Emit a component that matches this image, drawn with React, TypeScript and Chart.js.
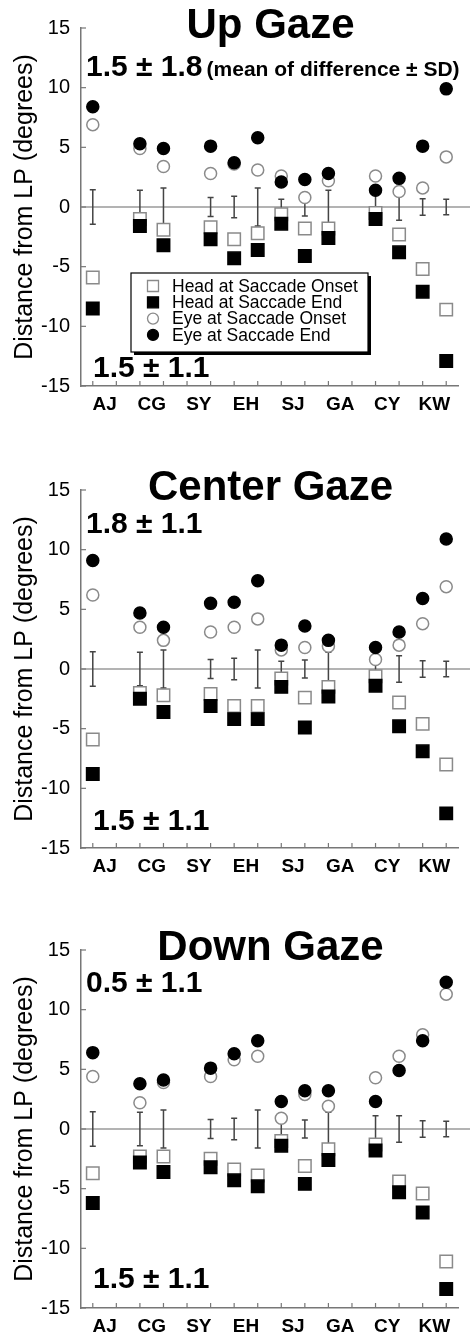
import React, { useEffect, useRef } from "react";
import { Chart, registerables } from "chart.js";

Chart.register(...registerables);

const FONT = "'Liberation Sans', Arial, Helvetica, sans-serif";

// ---- data ----
const subjects = ["AJ", "CG", "SY", "EH", "SJ", "GA", "CY", "KW"];
// x positions (two slots per subject) that hold data
const positions = [1, 3, 4, 6, 7, 8, 9, 10, 11, 13, 14, 15, 16];
const errSD = [1.45, 1.4, 1.6, 0.8, 0.9, 1.6, 0.65, 0.75, 1.4, 1.1, 1.1, 0.7, 0.65];

const upHeadOnset = [-5.9, -1.0, -1.9, -1.7, -2.7, -2.2, -0.6, -1.8, -1.8, -0.5, -2.3, -5.2, -8.6];
const upHeadEnd = [-8.5, -1.6, -3.2, -2.7, -4.3, -3.6, -1.4, -4.1, -2.6, -1.0, -3.8, -7.1, -12.9];
const upEyeOnset = [6.9, 4.9, 3.4, 2.8, 3.6, 3.1, 2.6, 0.8, 2.2, 2.6, 1.3, 1.6, 4.2];
const upEyeEnd = [8.4, 5.3, 4.9, 5.1, 3.7, 5.8, 2.1, 2.3, 2.8, 1.4, 2.4, 5.1, 9.9];

const centerHeadOnset = [-5.9, -2.0, -2.2, -2.1, -3.1, -3.1, -0.8, -2.4, -1.5, -0.6, -2.8, -4.6, -8.0];
const centerHeadEnd = [-8.8, -2.5, -3.6, -3.1, -4.2, -4.2, -1.5, -4.9, -2.3, -1.4, -4.8, -6.9, -12.1];
const centerEyeOnset = [6.2, 3.5, 2.4, 3.1, 3.5, 4.2, 1.6, 1.8, 1.9, 0.8, 2.0, 3.8, 6.9];
const centerEyeEnd = [9.1, 4.7, 3.5, 5.5, 5.6, 7.4, 2.0, 3.6, 2.4, 1.8, 3.1, 5.9, 10.9];

const downHeadOnset = [-3.7, -2.3, -2.3, -2.5, -3.4, -3.9, -1.0, -3.1, -1.7, -1.3, -4.4, -5.4, -11.1];
const downHeadEnd = [-6.2, -2.8, -3.6, -3.2, -4.3, -4.8, -1.4, -4.6, -2.6, -1.8, -5.3, -7.0, -13.4];
const downEyeOnset = [4.4, 2.2, 3.9, 4.4, 5.8, 6.1, 0.9, 2.9, 1.9, 4.3, 6.1, 7.9, 11.3];
const downEyeEnd = [6.4, 3.8, 4.1, 5.1, 6.3, 7.4, 2.3, 3.2, 3.2, 2.3, 4.9, 7.4, 12.3];

const seriesLabels = [
  "Head at Saccade Onset",
  "Head at Saccade End",
  "Eye at Saccade Onset",
  "Eye at Saccade End",
];
const yTicks = [-15, -10, -5, 0, 5, 10, 15];

const panels = [
  {
    title: "Up Gaze",
    topStat: "1.5 ± 1.8",
    topNote: "(mean of difference ± SD)",
    bottomStat: "1.5 ± 1.1",
    series: [upHeadOnset, upHeadEnd, upEyeOnset, upEyeEnd],
    legend: true,
    topY: 48,
    bottomY: 9,
  },
  {
    title: "Center Gaze",
    topStat: "1.8 ± 1.1",
    topNote: "",
    bottomStat: "1.5 ± 1.1",
    series: [centerHeadOnset, centerHeadEnd, centerEyeOnset, centerEyeEnd],
    legend: false,
    topY: 43,
    bottomY: 18,
  },
  {
    title: "Down Gaze",
    topStat: "0.5 ± 1.1",
    topNote: "",
    bottomStat: "1.5 ± 1.1",
    series: [downHeadOnset, downHeadEnd, downEyeOnset, downEyeEnd],
    legend: false,
    topY: 42,
    bottomY: 20,
  },
];

const styles = [
  { pointStyle: "rect", radius: 8.8, bg: "#ffffff", border: "#8a8a8a", order: 2 },
  { pointStyle: "rect", radius: 8.8, bg: "#000000", border: "#000000", order: 1 },
  { pointStyle: "circle", radius: 6, bg: "#ffffff", border: "#8a8a8a", order: 2 },
  { pointStyle: "circle", radius: 6, bg: "#000000", border: "#000000", order: 1 },
];

function makePlugin(panel: any) {
  return {
    id: "panelDecor",
    beforeDatasetsDraw(chart: any) {
      const { ctx, chartArea, scales } = chart;
      const xs = scales.x;
      const ys = scales.y;
      ctx.save();
      // zero line
      const y0 = ys.getPixelForValue(0);
      ctx.strokeStyle = "#9a9a9a";
      ctx.lineWidth = 1.5;
      ctx.beginPath();
      ctx.moveTo(chartArea.left, y0);
      ctx.lineTo(chartArea.right + 12, y0);
      ctx.stroke();
      // error bars
      ctx.strokeStyle = "#444";
      ctx.lineWidth = 1.5;
      positions.forEach((p, i) => {
        const x = xs.getPixelForValue(p);
        const yt = ys.getPixelForValue(errSD[i]);
        const yb = ys.getPixelForValue(-errSD[i]);
        ctx.beginPath();
        ctx.moveTo(x, yt);
        ctx.lineTo(x, yb);
        ctx.moveTo(x - 3, yt);
        ctx.lineTo(x + 3, yt);
        ctx.moveTo(x - 3, yb);
        ctx.lineTo(x + 3, yb);
        ctx.stroke();
      });
      // inward tick marks
      ctx.strokeStyle = "#777";
      ctx.lineWidth = 1.2;
      for (let p = 1; p <= 16; p++) {
        const x = xs.getPixelForValue(p);
        ctx.beginPath();
        ctx.moveTo(x, chartArea.bottom);
        ctx.lineTo(x, chartArea.bottom - 5);
        ctx.stroke();
      }
      yTicks.forEach((v) => {
        const y = ys.getPixelForValue(v);
        ctx.beginPath();
        ctx.moveTo(chartArea.left, y);
        ctx.lineTo(chartArea.left + 5, y);
        ctx.stroke();
      });
      ctx.restore();
    },
    afterDraw(chart: any) {
      const { ctx, chartArea } = chart;
      ctx.save();
      ctx.fillStyle = "#000";
      ctx.textBaseline = "alphabetic";
      // title
      ctx.font = `bold 42px ${FONT}`;
      ctx.textAlign = "center";
      ctx.fillText(panel.title, (chartArea.left + chartArea.right) / 2 + 1, chartArea.top + 10);
      // stats
      ctx.textAlign = "left";
      ctx.font = `bold 30px ${FONT}`;
      const sx = chartArea.left + 5;
      ctx.fillText(panel.topStat, sx, chartArea.top + panel.topY);
      const w = ctx.measureText(panel.topStat).width;
      if (panel.topNote) {
        ctx.font = `bold 21px ${FONT}`;
        ctx.fillText(panel.topNote, sx + w + 4, chartArea.top + panel.topY);
      }
      ctx.font = `bold 30px ${FONT}`;
      ctx.fillText(panel.bottomStat, chartArea.left + 12, chartArea.bottom - panel.bottomY);

      // legend
      if (panel.legend) {
        const lx = chartArea.left + 50;
        const ly = chartArea.top + 245;
        const lw = 237;
        const lh = 79;
        ctx.fillStyle = "#000";
        ctx.fillRect(lx + 3, ly + 3, lw, lh);
        ctx.fillStyle = "#fff";
        ctx.fillRect(lx, ly, lw, lh);
        ctx.strokeStyle = "#000";
        ctx.lineWidth = 1.2;
        ctx.strokeRect(lx, ly, lw, lh);
        ctx.font = `17.5px ${FONT}`;
        ctx.textBaseline = "middle";
        chart.data.datasets.forEach((ds: any, i: number) => {
          const cy = ly + 13 + i * 16.3;
          const mx = lx + 22;
          ctx.lineWidth = 1.3;
          ctx.strokeStyle = ds.borderColor;
          ctx.fillStyle = ds.backgroundColor;
          ctx.beginPath();
          if (ds.pointStyle === "rect") {
            ctx.rect(mx - 5.5, cy - 5.5, 11, 11);
          } else {
            ctx.arc(mx, cy, 5.5, 0, Math.PI * 2);
          }
          ctx.fill();
          ctx.stroke();
          ctx.fillStyle = "#000";
          ctx.fillText(ds.label, lx + 41, cy + 1);
        });
      }
      ctx.restore();
    },
  };
}

function makeConfig(panel: any): any {
  return {
    type: "scatter",
    data: {
      datasets: seriesLabels.map((label, k) => ({
        label,
        data: positions.map((x, i) => ({ x, y: panel.series[k][i] })),
        pointStyle: styles[k].pointStyle,
        pointRadius: styles[k].radius,
        pointHoverRadius: styles[k].radius,
        backgroundColor: styles[k].bg,
        borderColor: styles[k].border,
        pointBorderWidth: 1.5,
        borderWidth: 1.5,
        order: styles[k].order,
      })),
    },
    options: {
      animation: false,
      responsive: true,
      maintainAspectRatio: false,
      events: [],
      layout: { padding: { top: 28, right: 16, left: 0, bottom: 0 } },
      plugins: { legend: { display: false }, tooltip: { enabled: false }, title: { display: false } },
      scales: {
        x: {
          type: "linear",
          min: 0.5,
          max: 16.5,
          grid: { display: false, drawTicks: false },
          border: { display: true, color: "#777", width: 1.5 },
          afterBuildTicks: (s: any) => {
            s.ticks = subjects.map((_, i) => ({ value: 1.5 + 2 * i }));
          },
          afterFit: (s: any) => {
            s.height = 27;
          },
          ticks: {
            autoSkip: false,
            maxRotation: 0,
            padding: 7,
            color: "#000",
            font: { family: FONT, size: 19, weight: "bold" },
            callback: (v: number) => subjects[Math.round((v - 1.5) / 2)],
          },
        },
        y: {
          min: -15,
          max: 15,
          grid: { display: true, drawTicks: false, color: "rgba(0,0,0,0)" },
          border: { display: true, color: "#777", width: 1.5 },
          afterBuildTicks: (s: any) => {
            s.ticks = yTicks.map((v) => ({ value: v }));
          },
          afterFit: (s: any) => {
            s.width = 81;
          },
          ticks: {
            padding: 11,
            color: "#000",
            font: { family: FONT, size: 20 },
          },
          title: {
            display: true,
            text: "Distance from LP (degrees)",
            color: "#000",
            font: { family: FONT, size: 25 },
            padding: { top: 10, bottom: 0 },
          },
        },
      },
    },
    plugins: [makePlugin(panel)],
  };
}

function Panel({ panel, top }: { panel: any; top: number }) {
  const ref = useRef<HTMLCanvasElement | null>(null);
  useEffect(() => {
    if (!ref.current) return;
    const chart = new Chart(ref.current, makeConfig(panel));
    return () => chart.destroy();
  }, [panel]);
  return (
    <div style={{ position: "absolute", left: 0, top, width: 474, height: 413 }}>
      <canvas ref={ref} />
    </div>
  );
}

export default function App() {
  const tops = [0, 462, 922];
  return (
    <div
      style={{
        position: "absolute",
        left: 0,
        top: 0,
        width: 474,
        height: 1335,
        overflow: "hidden",
        background: "#fff",
      }}
    >
      {panels.map((p, i) => (
        <Panel key={p.title} panel={p} top={tops[i]} />
      ))}
    </div>
  );
}
